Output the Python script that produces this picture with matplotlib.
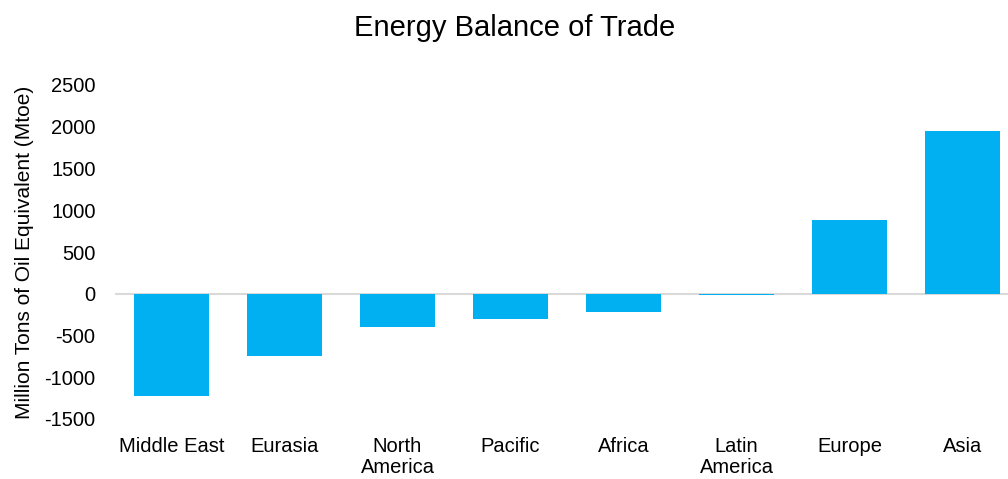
import matplotlib.pyplot as plt

# data
regions = ['Middle East', 'Eurasia', 'North\nAmerica', 'Pacific', 'Africa',
           'Latin\nAmerica', 'Europe', 'Asia']
balance = [-1220, -740, -395, -300, -220, -20, 880, 1945]
yticks = [-1500, -1000, -500, 0, 500, 1000, 1500, 2000, 2500]

plt.rcParams['font.family'] = ['Liberation Sans', 'DejaVu Sans']

fig = plt.figure(figsize=(10.08, 4.79), dpi=100)
ax = fig.add_axes([115 / 1008, 1 - 419 / 479, (1019 - 115) / 1008, (419 - 85) / 479])

x = range(len(regions))
ax.bar(x, balance, width=0.66, color='#00B0F0', zorder=2)
ax.axhline(0, color='#D9D9D9', linewidth=1.5, zorder=1)

ax.set_xlim(-0.5, 7.5)
ax.set_ylim(-1500, 2500)
ax.set_yticks(yticks)
ax.set_yticklabels([str(v) for v in yticks])
ax.set_xticks(list(x))
ax.set_xticklabels(regions, linespacing=1.15)
ax.tick_params(axis='both', length=0, labelsize=14.5, colors='black')
ax.tick_params(axis='x', pad=13)
ax.tick_params(axis='y', pad=14)
for s in ax.spines.values():
    s.set_visible(False)

ax.set_ylabel('Million Tons of Oil Equivalent (Mtoe)', fontsize=15)
ax.yaxis.set_label_coords(-(115 - 34) / 904, 0.5)

fig.text(515 / 1008, 1 - 28 / 479, 'Energy Balance of Trade', fontsize=21,
         ha='center', va='center')

plt.savefig('out.png', dpi=100)
